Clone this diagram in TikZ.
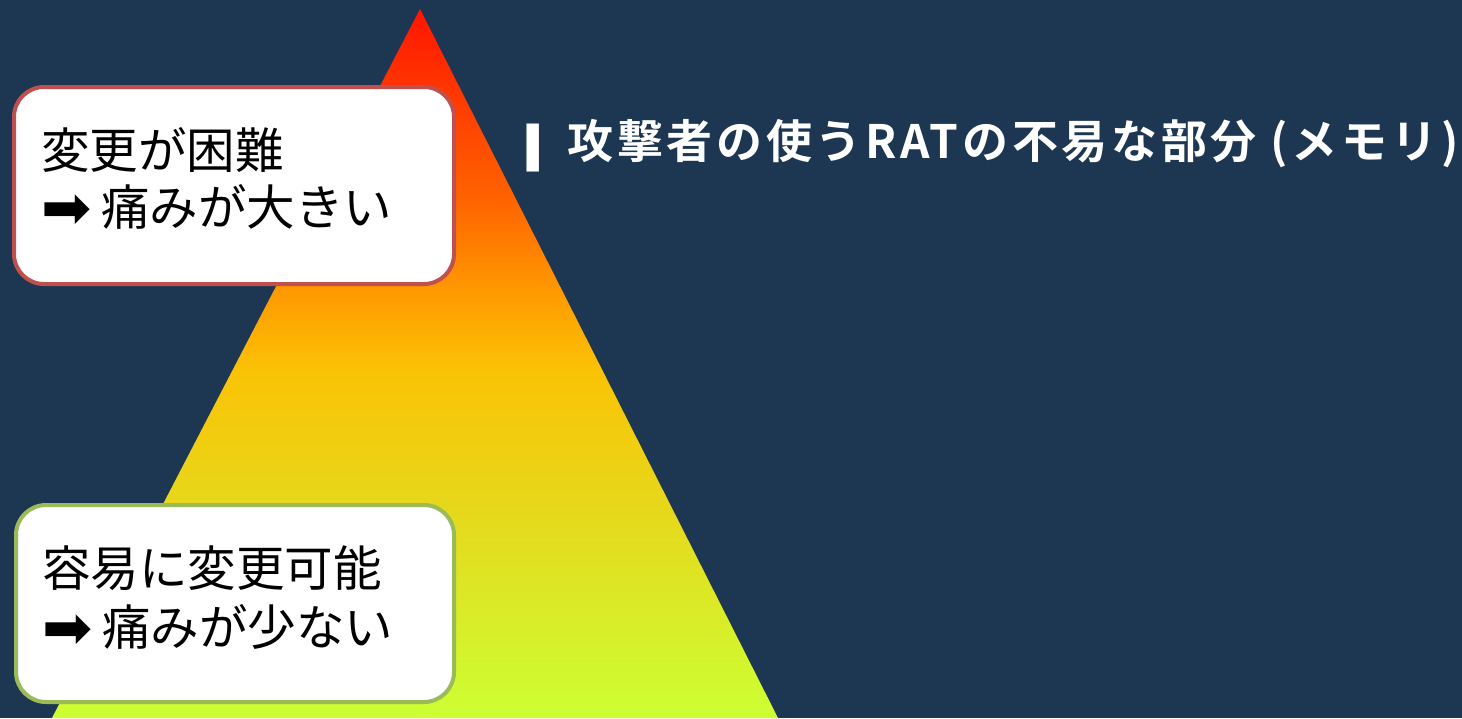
\documentclass[tikz,border=0pt]{standalone}
\usepackage{fontspec}
\setmainfont{Noto Sans CJK JP}[BoldFont={Noto Sans CJK JP Bold}]
\newfontfamily\sym{DejaVu Sans}
\definecolor{bg}{HTML}{1D3651}
\definecolor{redb}{HTML}{C0504D}
\definecolor{grnb}{HTML}{9BBB59}
\definecolor{c1}{HTML}{FF1500}
\definecolor{c2}{HTML}{FF6400}
\definecolor{c3}{HTML}{FF9A00}
\definecolor{c4}{HTML}{FBC305}
\definecolor{c5}{HTML}{E8D61A}
\definecolor{c6}{HTML}{CCFF33}
\pgfdeclareverticalshading{pyramid}{100bp}{color(0bp)=(c6); color(25bp)=(c6); color(40.5bp)=(c5); color(49.5bp)=(c4); color(55bp)=(c3); color(61.5bp)=(c2); color(75bp)=(c1); color(100bp)=(c1)}
\newcommand{\bigarrow}{\raisebox{-3pt}{\fontsize{60}{60}\sym ➡}\hspace{10pt}}
\newcommand{\titlebar}{\raisebox{-2pt}{\scalebox{0.78}[1.0]{\fontsize{48}{48}\sym ❚}}}
\tikzset{
  box/.style={draw, line width=4pt, fill=white, rounded corners=30pt, anchor=north west},
  txt/.style={anchor=west, inner sep=0pt, font=\fontsize{48.5}{56}\selectfont, text=black},
  ttl/.style={anchor=west, inner sep=0pt, font=\fontsize{46}{52}\selectfont\bfseries\addfontfeatures{LetterSpace=8}, text=white}
}
\begin{document}
\begin{tikzpicture}[x=1pt,y=-1pt]
\useasboundingbox[fill=bg] (0,0) rectangle (1462,718);
\coordinate (apex) at (420,9);
\coordinate (bl) at (52,718);
\coordinate (br) at (778,718);
\shade[shading=pyramid] (apex) -- (br) -- (bl) -- cycle;
\node[box, draw=redb, minimum width=440, minimum height=197] (hard) at (12,85) {};
\node[box, draw=grnb, minimum width=438, minimum height=197] (easy) at (14,503) {};
\node[txt] (hard1) at (41,150) {変更が困難};
\node[txt] (hard2) at (41,207) {\bigarrow 痛みが大きい};
\node[txt] (easy1) at (42,568) {容易に変更可能};
\node[txt] (easy2) at (42,627) {\bigarrow 痛みが少ない};
\node[ttl] (title) at (517,146) {\titlebar\hspace{19pt}攻撃者の使うRATの不易な部分 (メモリ)};
\end{tikzpicture}
\end{document}
